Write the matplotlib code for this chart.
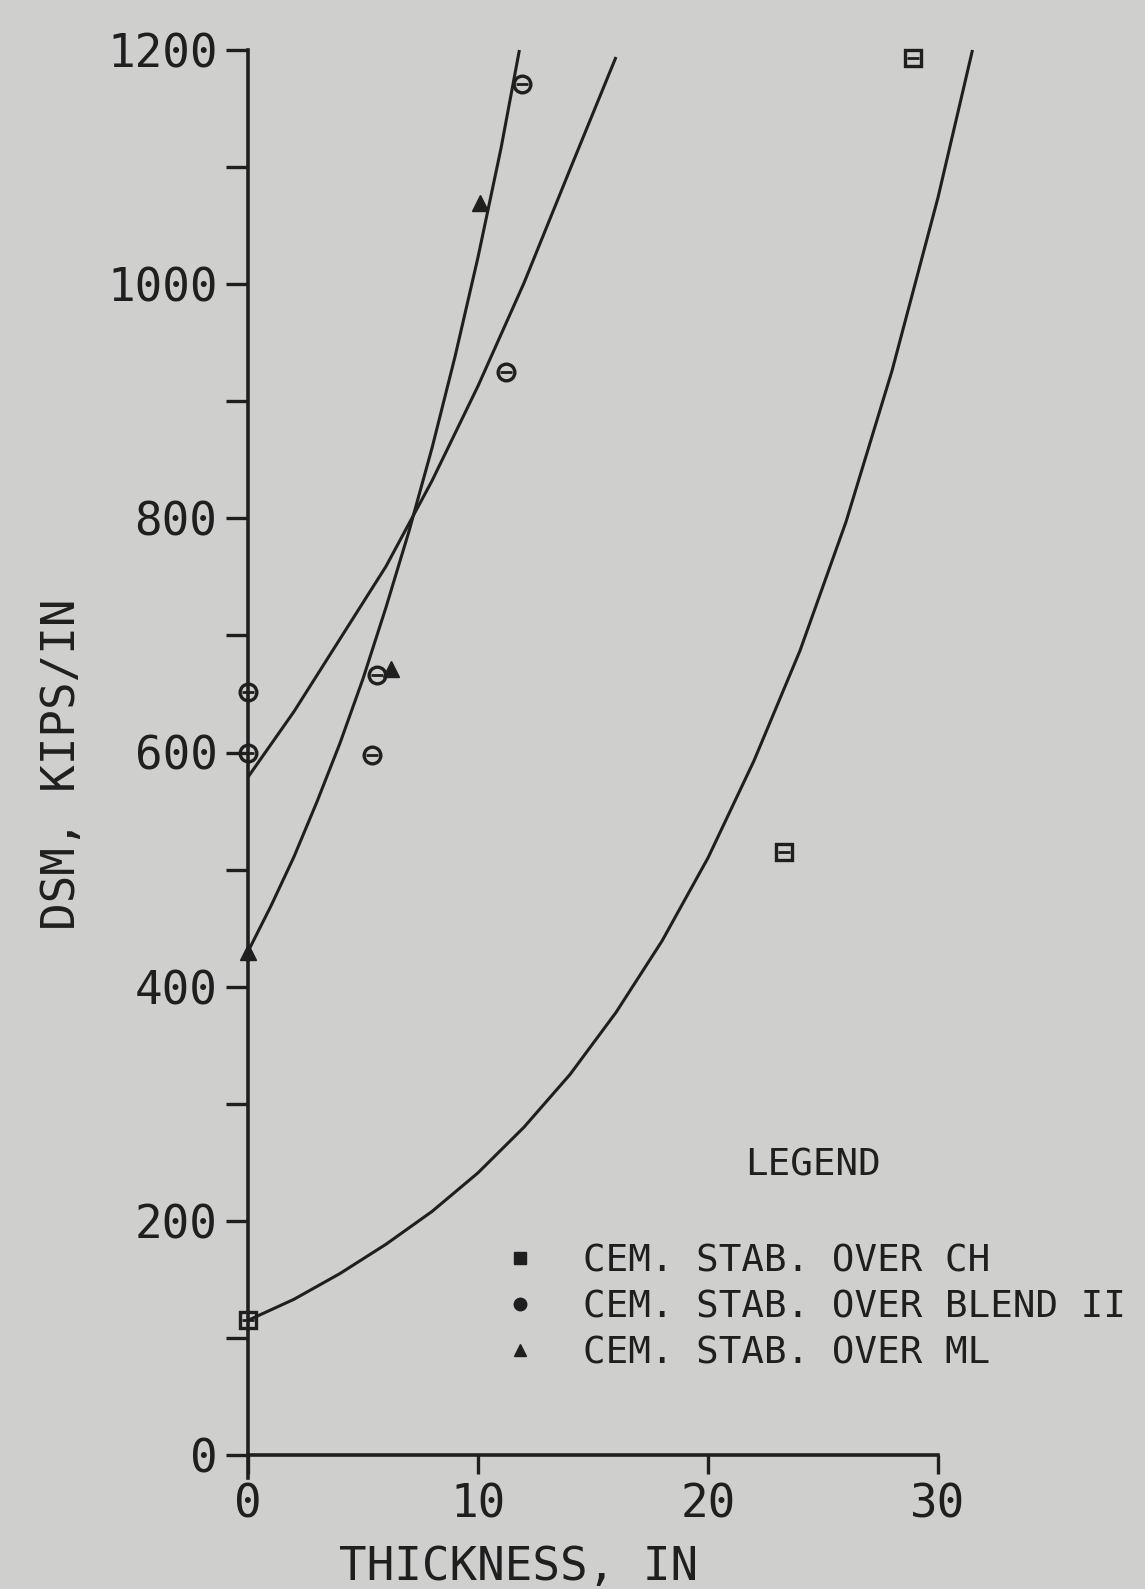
import numpy as np
import matplotlib
matplotlib.use("Agg")
import matplotlib.pyplot as plt
from matplotlib.lines import Line2D
from matplotlib.ticker import MultipleLocator

# ---------------- data ----------------
# measured points
ch_x = [0.0, 23.3, 28.9]
ch_y = [115, 515, 1193]
blend_x = [0.0, 0.0, 5.4, 5.6, 11.2, 11.9]
blend_y = [600, 652, 598, 666, 925, 1171]
ml_x = [0.0, 6.2, 10.1]
ml_y = [430, 671, 1069]

# fitted curves
ch_fit_x = [0, 2, 4, 6, 8, 10, 12, 14, 16, 18, 20, 22, 24, 26, 28, 30, 31.5]
ch_fit_y = [115, 133, 155, 180, 208, 241, 280, 325, 378, 439, 510, 593, 687, 797, 926, 1074, 1200]
blend_fit_x = [0, 2, 4, 6, 8, 10, 12, 14, 16]
blend_fit_y = [579, 635, 697, 759, 832, 913, 1001, 1098, 1194]
ml_fit_x = [0, 1, 2, 3, 4, 5, 6, 7, 8, 9, 10, 11, 11.8]
ml_fit_y = [430, 469, 511, 558, 608, 663, 724, 789, 860, 938, 1023, 1116, 1200]

x_ticks = [0, 10, 20, 30]
y_ticks = [0, 200, 400, 600, 800, 1000, 1200]
legend_title = "LEGEND"
legend_labels = ["CEM. STAB. OVER CH", "CEM. STAB. OVER BLEND II", "CEM. STAB. OVER ML"]

# ---------------- style ----------------
bg = "#cfcfcd"
ink = "#1f1f1f"
font = "DejaVu Sans Mono"
plt.rcParams["font.family"] = [font, "DejaVu Sans"]

W, H = 1145, 1589
fig = plt.figure(figsize=(W / 100, H / 100), dpi=100, facecolor=bg)
x0_px, y0_px = 248, 1455
ax = fig.add_axes([x0_px / W, 1 - y0_px / H, 690 / W, 1405 / H], facecolor=bg)
ax.set_xlim(0, 30)
ax.set_ylim(0, 1200)

# curves
for fx, fy in [(ch_fit_x, ch_fit_y), (blend_fit_x, blend_fit_y), (ml_fit_x, ml_fit_y)]:
    ax.plot(fx, fy, color=ink, lw=2.2, clip_on=False, solid_capstyle="butt")

# markers
ax.plot(ch_x, ch_y, ls="none", marker="s", ms=11, mfc="none", mec=ink, mew=2.4, clip_on=False)
ax.plot(ch_x, ch_y, ls="none", marker="_", ms=8, mec=ink, mew=2.0, clip_on=False)
ax.plot(blend_x, blend_y, ls="none", marker="o", ms=12, mfc="none", mec=ink, mew=2.4, clip_on=False)
ax.plot(blend_x, blend_y, ls="none", marker="_", ms=9, mec=ink, mew=2.0, clip_on=False)
ax.plot(ml_x, ml_y, ls="none", marker="^", ms=11, color=ink, clip_on=False)

# axes styling
for s in ["top", "right"]:
    ax.spines[s].set_visible(False)
for s in ["left", "bottom"]:
    ax.spines[s].set_linewidth(2.6)
    ax.spines[s].set_color(ink)
ax.spines["left"].set_bounds(-20, 1200)

ax.set_xticks(x_ticks)
ax.set_xticklabels([str(v) for v in x_ticks])
ax.set_yticks(y_ticks)
ax.set_yticklabels([str(v) for v in y_ticks])
ax.yaxis.set_minor_locator(MultipleLocator(100))
ax.tick_params(axis="y", which="both", direction="out", length=16, width=2.4, color=ink,
               pad=6, labelsize=33, labelcolor=ink)
ax.tick_params(axis="x", which="major", direction="out", length=14, width=2.4, color=ink,
               pad=6, labelsize=33, labelcolor=ink)

ax.set_xlabel("THICKNESS, IN", fontsize=33, color=ink)
ax.xaxis.label.set_va("center")
ax.xaxis.set_label_coords((519 - x0_px) / 690, (y0_px - 1568) / 1405)
ax.set_ylabel("DSM, KIPS/IN", fontsize=33, color=ink)
ax.yaxis.label.set_va("center")
ax.yaxis.set_label_coords((63 - x0_px) / 690, (y0_px - 764) / 1405)

# legend
fig.text(813 / W, 1 - 1166 / H, legend_title, ha="center", va="center", fontsize=27, color=ink)
handles = [
    Line2D([], [], ls="none", marker="s", ms=9, color=ink),
    Line2D([], [], ls="none", marker="o", ms=9, color=ink),
    Line2D([], [], ls="none", marker="^", ms=9, color=ink),
]
ax.legend(handles, legend_labels, loc="upper left", bbox_to_anchor=(505 / W, 1 - 1243 / H),
          bbox_transform=fig.transFigure, frameon=False, fontsize=27, handlelength=0.8,
          handletextpad=1.28, labelspacing=0.27, borderpad=0, borderaxespad=0,
          labelcolor=ink)

fig.savefig("out.png", dpi=100, facecolor=bg)
